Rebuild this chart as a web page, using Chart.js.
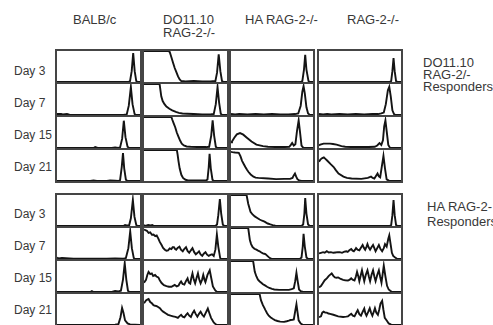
<!DOCTYPE html>
<html><head><meta charset="utf-8">
<script src="https://cdn.jsdelivr.net/npm/chart.js@4/dist/chart.umd.min.js"></script>
<style>
html,body{margin:0;padding:0;background:#fff;}
body{width:493px;height:325px;position:relative;overflow:hidden;font-family:"Liberation Sans",Arial,Helvetica,sans-serif;color:#383838;}
.t{position:absolute;font-size:13px;line-height:14px;white-space:nowrap;}
.t.day{font-size:12px;}
.p{position:absolute;box-sizing:border-box;border:2px solid #454545;}
.p canvas{display:block;}
</style></head><body>
<script>
// ---- Labels ----
const columnLabels = [["BALB/c"], ["DO11.10", "RAG-2-/-"], ["HA RAG-2-/-"], ["RAG-2-/-"]];
const dayLabels = ["Day 3", "Day 7", "Day 15", "Day 21"];
const responderLabels = [["DO11.10", "RAG-2/-", "Responders"], ["HA RAG-2-", "Responders"]];

// ---- Data: [fluorescence (0-100), relative count (0-100)] ----
// DO11.10 RAG-2-/- responders
const do_balb_d3 = [[0,0],[86,0],[88,3],[90,35],[91.8,93],[93.6,35],[95.5,3],[97,0],[100,0]];
const do_balb_d7 = [[0,3],[5,3],[7,2],[12,3],[15,1],[18,0],[80,0],[84,2],[86.5,30],[89,90],[91,35],[93.5,3],[95,0],[100,0]];
const do_balb_d15 = [[0,0],[44,0],[46,3],[49,0],[66,0],[70,2],[74,0],[76,2],[78.5,30],[80.5,88],[82.5,35],[85,4],[87,0],[100,0]];
const do_balb_d21 = [[0,0],[40,0],[44,2],[48,0],[60,0],[64,2],[70,1],[74,0],[76,3],[78,45],[79.5,90],[81,40],[83,4],[85,0],[100,0]];

const do_do11_d3 = [[0,100],[29,100],[31,97],[33,80],[35,62],[37,45],[39,32],[41,18],[43,8],[45,3],[50,2],[60,3],[70,2],[80,2],[86,3],[88,30],[90,89],[92,35],[94,3],[96,0],[100,0]];
const do_do11_d7 = [[0,100],[18.8,100],[20.8,60],[22.5,45],[24.7,35],[27,27],[30.6,20],[34,15],[38.4,10],[42,7],[46.3,5],[52,4],[60,3],[70,2],[80,2],[84,3],[86.5,35],[88.6,90],[90.5,40],[92.5,4],[94,0],[100,0]];
const do_do11_d15 = [[0,100],[33,100],[34,92],[36,78],[37.6,67],[39.5,50],[41.6,36],[43.5,24],[45.5,14],[48,8],[51.4,5],[56,4],[65,3],[75,3],[78.5,4],[81,40],[82.7,89],[84.5,40],[86.5,4],[88,0],[100,0]];
const do_do11_d21 = [[0,100],[39.6,100],[40.5,85],[41.5,65],[43,40],[45,20],[47,10],[50,4],[53,2],[65,2],[75,2],[76.5,5],[78,45],[79,88],[80.5,40],[82.5,4],[84,0],[100,0]];

const do_ha_d3 = [[0,0],[85,0],[87,3],[89,40],[90.5,88],[92,40],[94.5,3],[96,0],[100,0]];
const do_ha_d7 = [[0,3],[5,2],[10,3],[20,2],[30,3],[40,2],[50,3],[60,2],[70,2],[78,3],[82,5],[85,30],[87,75],[88.5,93],[90,70],[92,25],[94,5],[96,1],[100,0]];
const do_ha_d15 = [[0,18],[1.2,21],[4,33],[7.1,44],[11,48],[15,43],[19,34],[25,21],[31,11],[39,6],[45,4],[55,3],[65,3],[71,4],[73,10],[74.6,16],[76.5,8],[78.5,12],[80.5,55],[82.5,89],[84,55],[86,8],[88,1],[100,0]];
const do_ha_d21 = [[0,94],[1.6,93],[5,92],[9.5,91],[11.5,80],[13.5,65],[15.5,55],[17.5,45],[19.5,36],[21.4,29],[24,21],[27.4,14],[30,11],[33.3,10],[45.2,8],[55,6],[65,7],[72,7],[75,10],[76.5,18],[78,24],[79.5,14],[81,6],[83,2],[86,0],[100,0]];

const do_rag_d3 = [[0,0],[86,0],[88,3],[89.5,35],[90.9,77],[92.3,35],[94,3],[96,0],[100,0]];
const do_rag_d7 = [[0,3],[5,2],[10,3],[15,2],[25,3],[35,2],[45,3],[55,2],[65,3],[72,3],[76,5],[79,8],[81.5,35],[84,80],[85.7,91],[87.5,60],[89.5,15],[91.5,3],[93,0],[100,0]];
const do_rag_d15 = [[0,8],[1.6,11],[5.6,14],[9,14],[13.5,14],[17,13],[21.4,11],[27.4,6],[32,4],[40,3],[50,3],[60,3],[68,4],[71,8],[73.8,16],[76,10],[78,25],[79.5,70],[81,89],[82.5,55],[84.5,10],[86.5,1],[100,0]];
const do_rag_d21 = [[0,62],[2,70],[4,74],[5.9,76],[7.5,72],[9.9,66],[13.9,55],[17.9,45],[20.5,35],[23.8,24],[29.8,14],[34,10],[39.7,8],[51.6,7],[59.5,10],[63.5,14],[65.5,10],[67.5,8],[71.4,24],[73,15],[74.6,12],[76.5,45],[78.6,81],[80.5,40],[82.5,5],[85.3,1],[87,0],[100,0]];

// HA RAG-2-/- responders
const ha_balb_d3 = [[0,0],[80,0],[82,3],[84,2],[87,3],[89,25],[91.4,84],[93.3,30],[95.5,3],[97,0],[100,0]];
const ha_balb_d7 = [[0,4],[2,2],[6,3],[15,2],[20,1],[30,1],[50,1],[60,1],[70,2],[80,1],[83,3],[86,35],[88.2,89],[90.2,35],[92.5,3],[94,0],[100,0]];
const ha_balb_d15 = [[0,0],[40,0],[42,3],[44,0],[66,0],[70,3],[74,2],[77,4],[79.5,40],[81.6,93],[83.5,40],[85.5,4],[87,0],[100,0]];
const ha_balb_d21 = [[0,0],[60,0],[70,1],[74,3],[76.5,25],[78.4,55],[80,40],[82,15],[85,5],[88,2],[100,0]];

const ha_do11_d3 = [[0,3],[2,0],[5,3],[8,2],[10,3],[12,0],[86,0],[88,5],[89.5,35],[91.4,87],[93,40],[95,4],[97,0],[100,0]];
const ha_do11_d7 = [[0,95],[3.5,91],[5.5,84],[7.5,86],[9.5,78],[11.4,79],[13.5,74],[15.3,76],[17.3,66],[19,55],[21.2,45],[23,36],[25.1,30],[27,27],[29,28],[31,34],[33,32],[34.5,38],[36.1,38],[37.5,32],[38.8,30],[40.5,36],[42.7,40],[44.5,30],[46.7,25],[48.5,32],[50.6,38],[52.5,26],[54.5,20],[56.5,28],[58.4,35],[60.5,22],[62.4,15],[64.5,20],[66.3,25],[68.2,15],[70.2,10],[72,17],[74.1,22],[76,14],[78,10],[80,13],[82,15],[84,10],[86,30],[87.8,79],[89.5,40],[91.8,3],[93,0],[100,0]];
const ha_do11_d15 = [[0,30],[2.4,39],[4,55],[5.5,65],[7.5,58],[9.4,60],[11,52],[13.3,55],[15,50],[17.3,47],[19,38],[21.2,29],[24,22],[27.1,19],[30,17],[33,17],[35,20],[37,23],[39.5,18],[41.7,21],[43,28],[44.7,34],[46.5,26],[48.6,24],[50.5,35],[52.5,44],[54,30],[55.7,27],[57,45],[58.4,60],[60,40],[61.6,28],[63.3,45],[65,60],[66.6,40],[68.2,28],[70,40],[71.4,55],[72.8,40],[74,32],[76.5,55],[79.2,70],[81,45],[83,18],[85.9,5],[88,0],[100,0]];
const ha_do11_d21 = [[0,70],[2.4,79],[4,82],[5.5,84],[7.5,74],[9.5,70],[11.4,64],[13.5,62],[15.3,61],[17,58],[19.2,54],[21,48],[23.1,43],[26,38],[29,33],[32,30],[35,28],[38,26],[40.8,23],[42.5,28],[44.7,33],[46.5,27],[48.6,25],[50.5,32],[52.5,38],[54.5,30],[56.5,26],[58.5,38],[60.4,46],[62.4,35],[64.3,27],[66.3,36],[68.2,43],[70.2,33],[72.2,27],[74.5,40],[76.9,53],[78.8,38],[80.8,23],[84,8],[86.5,2],[88,0],[100,0]];

const ha_ha_d3 = [[0,100],[19,100],[21,72],[23.8,46],[26,38],[29,31],[32,26],[34.9,21],[38,17],[40.9,14],[44.8,8],[48,5],[50.8,3],[54,1],[56,0],[86,0],[88,5],[89.5,40],[90.5,90],[92,40],[94,5],[96,0],[100,0]];
const ha_ha_d7 = [[0,100],[21,100],[23,61],[24.5,48],[26.2,39],[28.5,33],[31,30],[33,27],[34.9,25],[37,21],[38.9,18],[40.5,17],[42,16],[44,11],[46,6],[48,2],[50,0],[84,0],[86,5],[87.5,40],[88.5,81],[90,40],[92,5],[94,0],[100,0]];
const ha_ha_d15 = [[0,100],[27,100],[29,65],[31,50],[32.9,40],[35,34],[36.9,30],[39,25],[40.9,22],[44,17],[46.8,13],[50,10],[52.8,8],[58.7,7],[65,7],[70.6,7],[74,9],[76.6,12],[78.3,35],[79.8,62],[81.3,35],[83,8],[85,3],[88,0],[100,0]];
const ha_ha_d21 = [[0,100],[34.9,100],[36.5,80],[38.9,64],[40.5,56],[42,48],[44,38],[46,30],[48.5,24],[50.8,20],[53.5,16],[56.7,13],[60,11],[64.7,10],[68,12],[70.5,14],[72.6,16],[75,17],[76.6,18],[78.3,45],[79.8,67],[81.2,40],[82.5,15],[85,5],[88,0],[100,0]];

const ha_rag_d3 = [[0,0],[86,0],[88,3],[89.5,35],[90.9,84],[92.3,35],[94,3],[96,0],[100,0]];
const ha_rag_d7 = [[0,18],[2.4,20],[5,22],[7,20],[9.5,25],[12,21],[14.5,22],[17.5,20],[20,21],[23,22],[25.4,22],[28,20],[31,24],[33.3,25],[35,23],[37,28],[39.3,32],[41,27],[42.5,25],[44,30],[45.2,35],[47,30],[49.2,28],[51.5,38],[53.2,45],[55,35],[56.3,30],[58,40],[59.1,48],[60.5,38],[62.3,30],[64,38],[65.9,45],[67.5,35],[69,25],[71,35],[73,45],[75,32],[77,25],[79,35],[80.5,48],[82.5,40],[84.5,65],[85.7,76],[87.5,45],[88.9,20],[90.5,10],[92.9,5],[95,1],[100,0]];
const ha_rag_d15 = [[0,15],[2.4,19],[5,30],[7,38],[9.5,44],[12,52],[15.5,60],[17.5,52],[19.4,47],[21.5,46],[23.4,47],[26.5,42],[29.4,39],[32,38],[35.3,37],[37.5,40],[39.3,44],[41,40],[43.3,37],[45,50],[46.4,65],[48,50],[49.2,35],[51,55],[52.4,70],[54,50],[55.2,35],[57,55],[59.1,70],[60.8,50],[62.3,35],[64,55],[65.9,70],[67.5,50],[69,35],[71,55],[73,70],[74.5,50],[76.2,30],[77.5,55],[79,85],[81,50],[83,20],[85,8],[86.9,4],[89,0],[100,0]];
const ha_rag_d21 = [[0,25],[2.4,28],[4,40],[5.6,43],[7.5,40],[9.5,40],[11.5,37],[13.5,36],[17.5,33],[23.4,28],[29.4,26],[33,27],[35.3,28],[37.3,32],[39.3,36],[41.3,30],[43.3,28],[45.2,38],[47.2,48],[49.2,35],[51.2,30],[53.2,42],[55.2,53],[56.5,38],[57.9,30],[60,42],[61.9,54],[63.5,40],[65.1,30],[66.7,42],[68.2,54],[69.8,40],[71.8,33],[73.5,50],[75,69],[77,78],[78.5,50],[80.2,23],[83,13],[85,5],[88,1],[100,0]];

const groupRows = [
  [[do_balb_d3, do_do11_d3, do_ha_d3, do_rag_d3],
   [do_balb_d7, do_do11_d7, do_ha_d7, do_rag_d7],
   [do_balb_d15, do_do11_d15, do_ha_d15, do_rag_d15],
   [do_balb_d21, do_do11_d21, do_ha_d21, do_rag_d21]],
  [[ha_balb_d3, ha_do11_d3, ha_ha_d3, ha_rag_d3],
   [ha_balb_d7, ha_do11_d7, ha_ha_d7, ha_rag_d7],
   [ha_balb_d15, ha_do11_d15, ha_ha_d15, ha_rag_d15],
   [ha_balb_d21, ha_do11_d21, ha_ha_d21, ha_rag_d21]]
];

// ---- Layout ----
const colLeft = [55, 142, 229, 317];
const colWidth = [87, 87, 86, 86];
const groupTop = [50, 194];
const rowH = 33;
const bw = 2;

function addText(txt, left, top, cls) {
  const d = document.createElement('div');
  d.className = 't' + (cls ? ' ' + cls : ''); d.textContent = txt;
  d.style.left = left + 'px'; d.style.top = top + 'px';
  document.body.appendChild(d);
}
// column headers
addText(columnLabels[0][0], 73, 13);
addText(columnLabels[1][0], 163, 13);
addText(columnLabels[1][1], 163, 26);
addText(columnLabels[2][0], 245, 13);
addText(columnLabels[3][0], 347, 13);
// day labels
const dayTops = [[64, 96, 128, 160], [207, 239, 271, 303]];
dayTops.forEach(g => g.forEach((t, i) => addText(dayLabels[i], 14, t, 'day')));
// responder labels
addText(responderLabels[0][0], 423, 56);
addText(responderLabels[0][1], 423, 68);
addText(responderLabels[0][2], 423, 80);
addText(responderLabels[1][0], 427, 199.5);
addText(responderLabels[1][1], 427, 215);

groupRows.forEach((rows, g) => {
  rows.forEach((cols, r) => {
    cols.forEach((pts, c) => {
      const div = document.createElement('div');
      div.className = 'p';
      const top = groupTop[g] + r * rowH - 1;
      const hh = rowH + bw;
      div.style.left = colLeft[c] + 'px';
      div.style.top = top + 'px';
      div.style.width = colWidth[c] + 'px';
      div.style.height = hh + 'px';
      const cv = document.createElement('canvas');
      const w = colWidth[c] - 2 * bw, h = hh - 2 * bw;
      cv.width = w; cv.height = h;
      cv.style.width = w + 'px'; cv.style.height = h + 'px';
      div.appendChild(cv);
      document.body.appendChild(div);
      new Chart(cv, {
        type: 'scatter',
        data: { datasets: [{
          data: pts.map(([x, y]) => ({ x, y })),
          showLine: true, borderColor: '#141414', borderWidth: 1.9,
          pointRadius: 0, fill: false, tension: 0
        }]},
        options: {
          responsive: false, animation: false, events: [],
          layout: { padding: 0 },
          scales: {
            x: { type: 'linear', min: 0, max: 100, display: false },
            y: { type: 'linear', min: 0, max: 100, display: false }
          },
          plugins: { legend: { display: false }, tooltip: { enabled: false } }
        }
      });
    });
  });
});
</script>
</body></html>
